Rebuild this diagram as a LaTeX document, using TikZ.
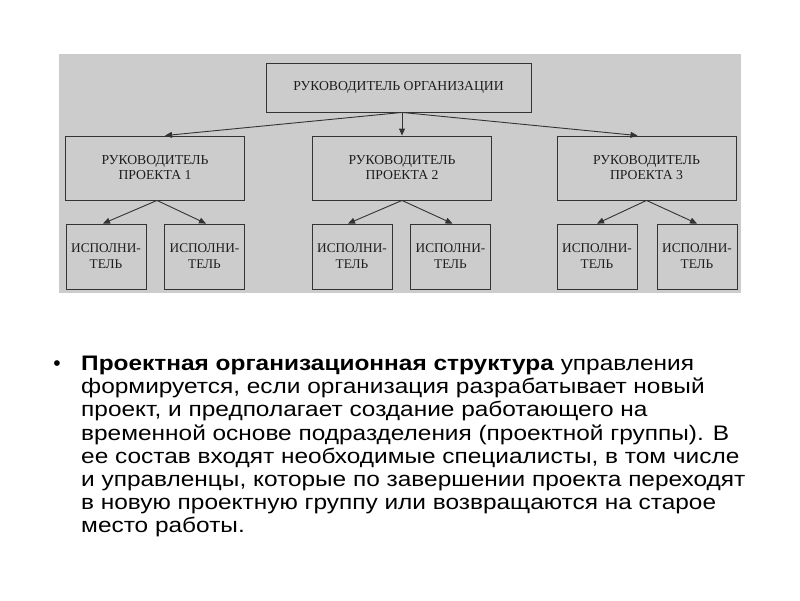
\documentclass[tikz,border=0pt]{standalone}
\usepackage{fontspec}
\setmainfont{Liberation Serif}
\newfontfamily\sansf{Liberation Sans}
\usetikzlibrary{arrows.meta}
\definecolor{bggrey}{HTML}{CCCCCC}
\definecolor{lineclr}{HTML}{333333}
\definecolor{txtclr}{HTML}{1E1E1E}
\newcommand{\wide}[1]{\scalebox{1.163}[1]{#1}}
\tikzset{
  box/.style={draw=lineclr, line width=0.9pt, fill=bggrey, inner sep=0pt, align=center,
    text=txtclr, font=\fontsize{13.7}{15}\selectfont},
  topbox/.style={box, minimum width=265pt, minimum height=49pt},
  midbox/.style={box, minimum width=179pt, minimum height=64pt},
  lowbox/.style={box, minimum width=80pt, minimum height=65pt, font=\fontsize{13.3}{16}\selectfont},
  conn/.style={draw=lineclr, line width=0.9pt, -{Triangle[length=7pt,width=6pt]}},
  para/.style={anchor=base west, inner sep=0pt, text=black, font=\sansf\fontsize{21}{23}\selectfont}
}
\begin{document}
\begin{tikzpicture}[x=1pt,y=-1pt]
\useasboundingbox (0,0) rectangle (800,600);
\fill[white] (0,0) rectangle (800,600);
\fill[bggrey] (59,54) rectangle (741,293);

\node[topbox] (top) at (398.5,87.5) {РУКОВОДИТЕЛЬ ОРГАНИЗАЦИИ};

\node[midbox] (m1) at (155,168) {РУКОВОДИТЕЛЬ\\ПРОЕКТА 1};
\node[midbox] (m2) at (402,168) {РУКОВОДИТЕЛЬ\\ПРОЕКТА 2};
\node[midbox] (m3) at (646.5,168) {РУКОВОДИТЕЛЬ\\ПРОЕКТА 3};

\node[lowbox] (b1a) at (106,256.5) {ИСПОЛНИ-\\ТЕЛЬ};
\node[lowbox] (b1b) at (204.5,256.5) {ИСПОЛНИ-\\ТЕЛЬ};
\node[lowbox] (b2a) at (352,256.5) {ИСПОЛНИ-\\ТЕЛЬ};
\node[lowbox] (b2b) at (450.5,256.5) {ИСПОЛНИ-\\ТЕЛЬ};
\node[lowbox] (b3a) at (597,256.5) {ИСПОЛНИ-\\ТЕЛЬ};
\node[lowbox] (b3b) at (697,256.5) {ИСПОЛНИ-\\ТЕЛЬ};

\draw[conn] ([xshift=3.5pt]top.south) -- ([xshift=10pt]m1.north);
\draw[conn] ([xshift=3.5pt]top.south) -- (m2.north);
\draw[conn] ([xshift=3.5pt]top.south) -- ([xshift=-9pt]m3.north);

\draw[conn] ([xshift=2pt]m1.south) -- ([xshift=-3pt]b1a.north);
\draw[conn] ([xshift=2pt]m1.south) -- ([xshift=1.5pt]b1b.north);
\draw[conn] (m2.south) -- ([xshift=-4pt]b2a.north);
\draw[conn] (m2.south) -- ([xshift=2pt]b2b.north);
\draw[conn] (m3.south) -- (b3a.north);
\draw[conn] (m3.south) -- (b3b.north);

\node[para, anchor=base] (bul) at (57,370.7) {•};
\node[para] (p1) at (81,370.7) {\wide{\textbf{Проектная организационная структура} управления}};
\node[para] (p2) at (81,393.8) {\wide{формируется, если организация разрабатывает новый}};
\node[para] (p3) at (81,416.9) {\wide{проект, и предполагает создание работающего на}};
\node[para] (p4) at (81,440.0) {\wide{временной основе подразделения (проектной группы). В}};
\node[para] (p5) at (81,463.1) {\wide{ее состав входят необходимые специалисты, в том числе}};
\node[para] (p6) at (81,486.2) {\wide{и управленцы, которые по завершении проекта переходят}};
\node[para] (p7) at (81,509.3) {\wide{в новую проектную группу или возвращаются на старое}};
\node[para] (p8) at (81,532.4) {\wide{место работы.}};
\end{tikzpicture}
\end{document}
